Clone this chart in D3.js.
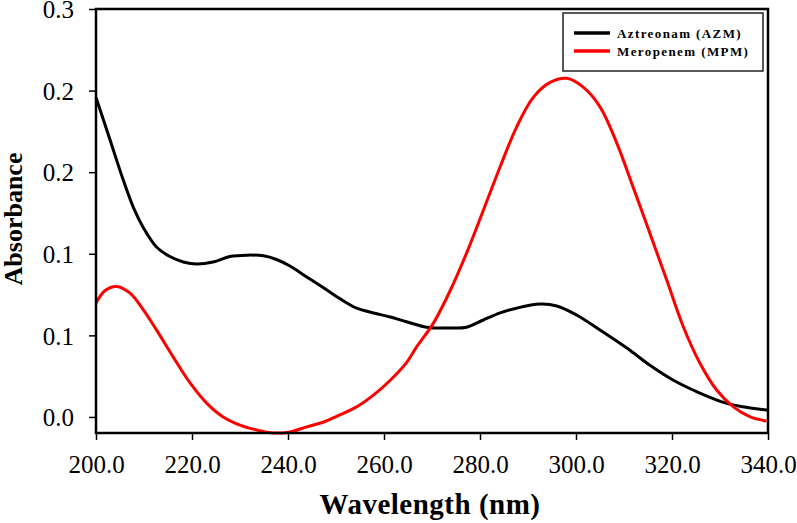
<!DOCTYPE html>
<html>
<head>
<meta charset="utf-8">
<script src="https://cdn.jsdelivr.net/npm/d3@7"></script>
<style>
  body { margin: 0; background: #fff; }
</style>
</head>
<body>
<div id="vis-container"></div>
<script>
// size of the picture
const w = 797
const h = 523
const margin = { top: 9, right: 29, bottom: 90, left: 96 };
const serif = "'Liberation Serif', 'Times New Roman', serif";

// x and y ticks
const xTicks = [200, 220, 240, 260, 280, 300, 320, 340];
const yTicks = [0, 0.06, 0.12, 0.18, 0.24, 0.30];

// series names
const seriesNames = ["Aztreonam (AZM)", "Meropenem (MPM)"];
const seriesColors = ["#000000", "#ff0000"];

// Aztreonam curve
const azmWavelength = [200, 202.9, 205.7, 207.8, 209.9, 212.6, 215.4, 218.2, 221, 224.4, 227.9, 231.4, 234.9, 237.6, 240.4, 243.9, 247.4, 250.8, 254.3, 257.8, 261.3, 264.7, 268.9, 273.8, 277.2, 280.7, 284.2, 287.6, 292.5, 296, 300.1, 305, 310.6, 315.4, 320.3, 325.8, 331.4, 336.3, 340];
const azmAbsorbance = [0.235, 0.204, 0.174, 0.154, 0.139, 0.125, 0.118, 0.114, 0.1125, 0.114, 0.118, 0.119, 0.1185, 0.1158, 0.111, 0.103, 0.095, 0.087, 0.080, 0.0765, 0.0735, 0.070, 0.066, 0.0654, 0.066, 0.0713, 0.0765, 0.080, 0.083, 0.0816, 0.075, 0.064, 0.0507, 0.038, 0.027, 0.0176, 0.010, 0.0066, 0.005];

// Meropenem curve
const mpmWavelength = [200, 201.9, 204.3, 207.1, 209.9, 212.6, 216.1, 219.6, 223.1, 226.5, 230, 233.5, 236.9, 240.4, 243.9, 247.4, 250.8, 254.3, 257.8, 261.3, 264.7, 266.8, 270.3, 273.8, 277.2, 280.7, 284.2, 287.6, 291.1, 294.6, 298.1, 301.5, 305, 308.5, 311.9, 315.4, 318.9, 322.4, 325.8, 329.3, 332.8, 336.3, 339.7];
const mpmAbsorbance = [0.0838, 0.093, 0.096, 0.091, 0.0786, 0.064, 0.044, 0.025, 0.010, 0.0, -0.006, -0.0096, -0.0118, -0.011, -0.0073, -0.0037, 0.0015, 0.0074, 0.016, 0.027, 0.040, 0.0515, 0.069, 0.093, 0.1205, 0.152, 0.184, 0.213, 0.235, 0.246, 0.249, 0.2425, 0.228, 0.2014, 0.169, 0.135, 0.1007, 0.066, 0.0397, 0.0198, 0.0074, 0.0, -0.003];

const svg = d3.select("#vis-container")
    .append("svg")
    .attr("width", w)
    .attr("height", h);

//scale function
const xScale = d3.scaleLinear()
    .domain([200, 340])
    .range([margin.left, w - margin.right]);

const yScale = d3.scaleLinear()
    .domain([-0.0118, 0.30])
    .range([h - margin.bottom, margin.top]);

const xAxis = d3.axisBottom(xScale).tickValues(xTicks).tickSize(7).tickPadding(15)
    .tickFormat(d3.format(".1f"));
const yAxis = d3.axisLeft(yScale).tickValues(yTicks).tickSize(7).tickPadding(15)
    .tickFormat(d3.format(".1f"));

// x axis
const gx = svg.append("g")
    .attr("transform", "translate(0," + (h - margin.bottom) + ")")
    .call(xAxis)
    .attr("font-family", null);
gx.select(".domain").remove();
gx.selectAll("line").attr("stroke", "#000").attr("stroke-width", 1.5);
gx.selectAll("text").style("font-family", serif).style("font-size", "25px").attr("fill", "#000");

// y axis
const gy = svg.append("g")
    .attr("transform", "translate(" + margin.left + ",0)")
    .call(yAxis)
    .attr("font-family", null);
gy.select(".domain").remove();
gy.selectAll("line").attr("stroke", "#000").attr("stroke-width", 1.5);
gy.selectAll("text").style("font-family", serif).style("font-size", "25px").attr("fill", "#000").attr("dy", "0.35em");

// lines
const line = d3.line()
    .x(d => xScale(d[0]))
    .y(d => yScale(d[1]))
    .curve(d3.curveCatmullRom);

const series = [
    d3.zip(azmWavelength, azmAbsorbance),
    d3.zip(mpmWavelength, mpmAbsorbance)
];

svg.selectAll(".curve")
    .data(series)
    .enter()
    .append("path")
    .attr("class", "curve")
    .attr("fill", "none")
    .attr("stroke", (d, i) => seriesColors[i])
    .attr("stroke-width", 3)
    .attr("stroke-linejoin", "round")
    .attr("d", line);

// frame
svg.append("rect")
    .attr("x", margin.left)
    .attr("y", margin.top)
    .attr("width", w - margin.left - margin.right)
    .attr("height", h - margin.top - margin.bottom)
    .attr("fill", "none")
    .attr("stroke", "#000")
    .attr("stroke-width", 2.5);

// axis titles
svg.append("text")
    .attr("x", 430)
    .attr("y", 514)
    .attr("text-anchor", "middle")
    .style("font-family", serif)
    .style("font-size", "29px")
    .style("font-weight", "bold")
    .style("letter-spacing", "0.5px")
    .text("Wavelength (nm)");

svg.append("text")
    .attr("transform", "translate(22,219) rotate(-90)")
    .attr("text-anchor", "middle")
    .style("font-family", serif)
    .style("font-size", "26px")
    .style("font-weight", "bold")
    .text("Absorbance");

// legend
svg.append("rect")
    .attr("x", 563)
    .attr("y", 13)
    .attr("width", 200)
    .attr("height", 58)
    .attr("fill", "#fff")
    .attr("stroke", "#222")
    .attr("stroke-width", 1.5);

const legend = svg.selectAll(".legend")
    .data(seriesNames)
    .enter().append("g")
    .attr("class", "legend")
    .attr("transform", (d, i) => "translate(0," + (33 + i * 18) + ")");

legend.append("line")
    .attr("x1", 574)
    .attr("x2", 610)
    .attr("stroke", (d, i) => seriesColors[i])
    .attr("stroke-width", 3.5);

legend.append("text")
    .attr("x", 617)
    .attr("dy", "0.35em")
    .style("font-family", serif)
    .style("font-size", "13px")
    .style("font-weight", "bold")
    .style("letter-spacing", "1.4px")
    .text(d => d);
</script>
</body>
</html>
